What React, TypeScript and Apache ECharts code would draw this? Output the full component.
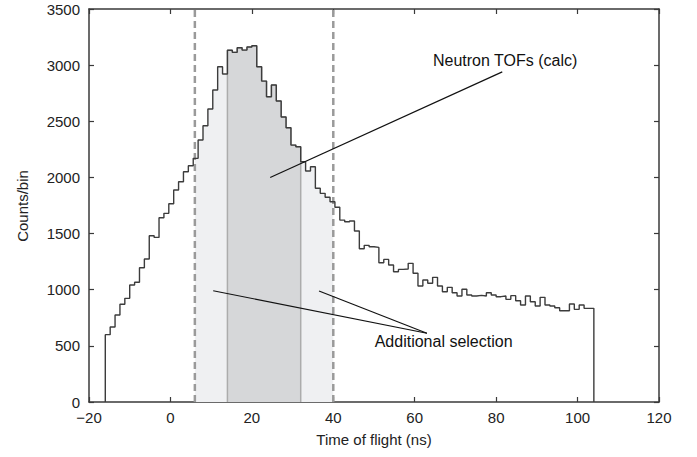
import React, { useEffect, useRef } from "react";
import * as echarts from "echarts";

// Histogram: 100 bins of 1.2 ns starting at -16 ns
const binStart = -16;
const binWidth = 1.2;
const counts = [
  600, 668, 775, 870, 923, 1042, 1066, 1196, 1273, 1481,
  1466, 1641, 1680, 1766, 1888, 1962, 2051, 2104, 2170, 2333,
  2460, 2609, 2778, 2986, 2921, 3132, 3114, 3155, 3134, 3161,
  3173, 2986, 2858, 2719, 2823, 2680, 2538, 2443, 2288, 2273,
  2140, 2057, 2095, 1903, 1858, 1823, 1784, 1735, 1620, 1605,
  1612, 1523, 1365, 1395, 1383, 1377, 1240, 1270, 1220, 1160,
  1181, 1184, 1235, 1146, 1033, 1086, 1057, 1110, 1033, 982,
  1021, 973, 944, 1004, 953, 944, 950, 944, 973, 953,
  938, 944, 914, 947, 902, 864, 944, 893, 855, 932,
  864, 855, 840, 813, 813, 873, 825, 864, 834, 834,
];

const selectionCuts = [6, 40]; // dashed lines / light region
const coreCuts = [14, 32]; // dark region

const xTicks = { min: -20, max: 120, interval: 20 };
const yTicks = { min: 0, max: 3500, interval: 500 };

// annotation: [x, y] in data coordinates
const neutronLine = [[24.5, 2000], [81.5, 2940]];
const neutronText = { text: "Neutron TOFs (calc)", at: [82.2, 3045] };
const addLine1 = [[10.5, 991], [63.0, 612]];
const addLine2 = [[36.5, 988], [63.0, 612]];
const addText = { text: "Additional selection", at: [67.1, 543] };

const FONT = "Liberation Sans, Arial, sans-serif";

function valueAt(x: number) {
  let i = Math.floor((x - binStart) / binWidth + 1e-9);
  if (i < 0) i = 0;
  if (i > counts.length - 1) i = counts.length - 1;
  return counts[i];
}

function stepPoints(from: number, to: number) {
  const pts: number[][] = [[from, 0]];
  let x = from;
  while (x < to - 1e-9) {
    const i = Math.floor((x - binStart) / binWidth + 1e-9);
    const right = Math.min(binStart + (i + 1) * binWidth, to);
    const v = valueAt(x);
    pts.push([x, v]);
    pts.push([right, v]);
    x = right;
  }
  pts.push([to, 0]);
  return pts;
}

export default function App() {
  const ref = useRef<HTMLDivElement>(null);
  useEffect(() => {
    document.body.style.margin = "0";
    if (!ref.current) return;
    const chart = echarts.init(ref.current, undefined, { renderer: "svg" });
    const histEnd = binStart + counts.length * binWidth;
    const axisColor = "#3a3a3a";
    const labelStyle = { fontFamily: FONT, fontSize: 15, color: "#222" };
    const fmtX = (v: number) => (v < 0 ? "\u2212" + Math.abs(v) : String(v));
    const fmtY = (v: number) => String(v);
    const line = { show: true, onZero: false, lineStyle: { color: axisColor, width: 1.5 } };
    const tick = { show: true, inside: true, length: 5, lineStyle: { color: axisColor, width: 1.2 } };

    const option: any = {
      animation: false,
      grid: { left: 89, right: 38, top: 9, bottom: 55, containLabel: false },
      xAxis: [
        {
          type: "value", ...xTicks, position: "bottom",
          axisLine: line, axisTick: tick,
          axisLabel: { ...labelStyle, margin: 8, formatter: fmtX },
          splitLine: { show: false },
        },
        {
          type: "value", ...xTicks, position: "top",
          axisLine: line, axisTick: tick,
          axisLabel: { show: false },
          splitLine: { show: false },
        },
      ],
      yAxis: [
        {
          type: "value", ...yTicks, position: "left",
          axisLine: line, axisTick: tick,
          axisLabel: { ...labelStyle, margin: 9, formatter: fmtY },
          splitLine: { show: false },
        },
        {
          type: "value", ...yTicks, position: "right",
          axisLine: line, axisTick: tick,
          axisLabel: { show: false },
          splitLine: { show: false },
        },
      ],
      series: [
        {
          type: "line", name: "selection", data: stepPoints(selectionCuts[0], selectionCuts[1]),
          symbol: "none", lineStyle: { width: 0 }, areaStyle: { color: "#eff0f2", opacity: 1 },
          silent: true, z: 1,
        },
        {
          type: "line", name: "core", data: stepPoints(coreCuts[0], coreCuts[1]),
          symbol: "none", lineStyle: { width: 1.5, color: "#acacac" },
          areaStyle: { color: "#d6d7d9", opacity: 1 }, silent: true, z: 2,
        },
        ...selectionCuts.map((c) => ({
          type: "line", data: [[c, yTicks.min], [c, yTicks.max]], symbol: "none",
          lineStyle: { color: "#9a9a9a", width: 2.5, type: [7, 4] }, silent: true, z: 3,
        })),
        {
          type: "line", name: "hist", data: stepPoints(binStart, histEnd), symbol: "none",
          lineStyle: { color: "#3c3c3c", width: 1.4 }, silent: true, z: 4,
        },
        ...[neutronLine, addLine1, addLine2].map((l) => ({
          type: "line", data: l, symbol: "none",
          lineStyle: { color: "#111", width: 1.2 }, silent: true, z: 5,
        })),
      ],
    };
    chart.setOption(option);

    const toPx = (p: number[]) => chart.convertToPixel({ xAxisIndex: 0, yAxisIndex: 0 }, p) as number[];
    const nt = toPx(neutronText.at);
    const at = toPx(addText.at);
    chart.setOption({
      graphic: [
        { type: "text", x: nt[0], y: nt[1], style: { text: neutronText.text, font: `16px ${FONT}`, fill: "#111", align: "center", verticalAlign: "middle" } },
        { type: "text", x: at[0], y: at[1], style: { text: addText.text, font: `16px ${FONT}`, fill: "#111", align: "center", verticalAlign: "middle" } },
        { type: "text", x: 374, y: 439, style: { text: "Time of flight (ns)", font: `15px ${FONT}`, fill: "#222", align: "center", verticalAlign: "middle" } },
        { type: "text", x: 22.5, y: 206, rotation: Math.PI / 2, style: { text: "Counts/bin", font: `15px ${FONT}`, fill: "#222", align: "center", verticalAlign: "middle" } },
      ],
    });
    return () => chart.dispose();
  }, []);
  return <div ref={ref} style={{ width: 697, height: 457 }} />;
}
